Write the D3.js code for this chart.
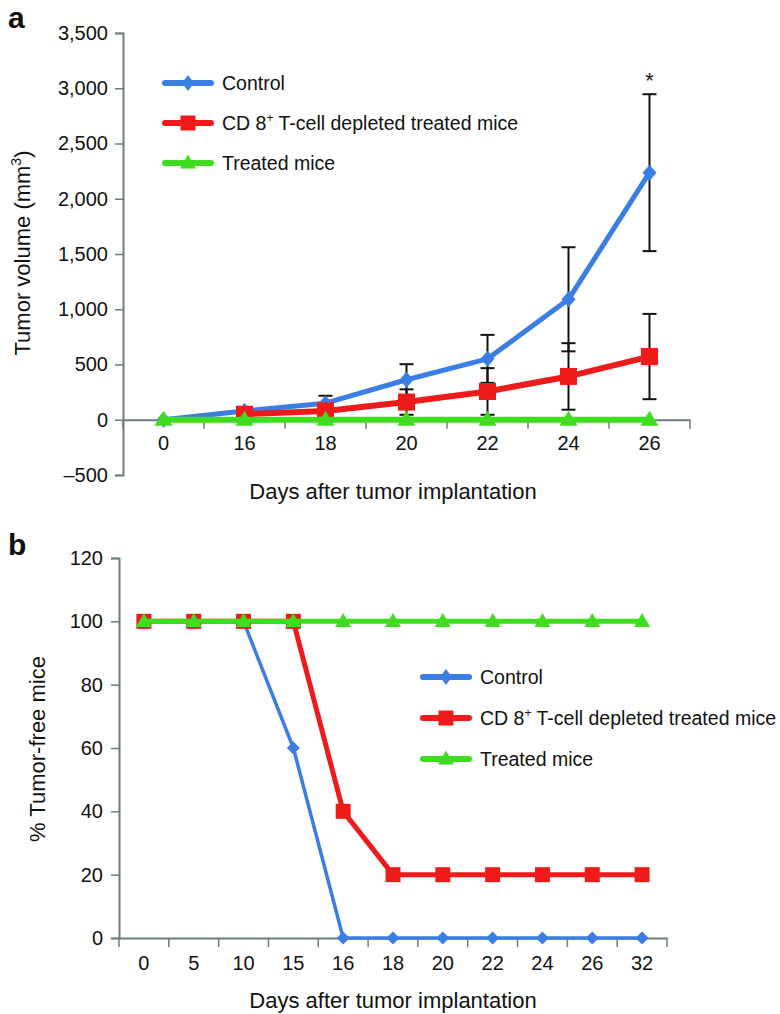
<!DOCTYPE html>
<html><head><meta charset="utf-8">
<script src="https://cdn.jsdelivr.net/npm/d3@7"></script>
<style>
body{margin:0;background:#fff}
text{font-family:"Liberation Sans",Arial,Helvetica,sans-serif;fill:#111}
</style>
</head><body>
<svg id="c" width="780" height="1014"></svg>
<script>
// ---------- data: panel a ----------
const daysA = ["0","16","18","20","22","24","26"];
const controlA = [0, 80, 150, 362, 551, 1090, 2236];
const controlAErr = [0, 20, 67, 141, 217, 471, 710];
const cd8A = [null, 50, 80, 160, 256, 392, 572];
const cd8AErr = [0, 15, 30, 115, 211, 301, 386];
const treatedA = [0, 0, 0, 0, 0, 0, 0];
const yTicksA = [-500, 0, 500, 1000, 1500, 2000, 2500, 3000, 3500];
const yTickLabelsA = ["\u2013500","0","500","1,000","1,500","2,000","2,500","3,000","3,500"];

// ---------- data: panel b ----------
const daysB = ["0","5","10","15","16","18","20","22","24","26","32"];
const controlB = [100, 100, 100, 60, 0, 0, 0, 0, 0, 0, 0];
const cd8B = [100, 100, 100, 100, 40, 20, 20, 20, 20, 20, 20];
const treatedB = [100, 100, 100, 100, 100, 100, 100, 100, 100, 100, 100];
const yTicksB = [0, 20, 40, 60, 80, 100, 120];

const seriesNames = ["Control", "CD 8+ T-cell depleted treated mice", "Treated mice"];
const colors = ["#3a7ee4", "#ef1b1b", "#3fdc20"];
const axisColor = "#6f7d7d";

const svg = d3.select("#c");

// marker path builders
function diamond(w, h){ return `M0,${-h/2}L${w/2},0L0,${h/2}L${-w/2},0Z`; }
function square(s){ return `M${-s/2},${-s/2}h${s}v${s}h${-s}Z`; }
function triangle(w, h){ return `M0,${-h*0.6}L${w/2},${h*0.4}L${-w/2},${h*0.4}Z`; }

function legendLabel(sel, name){
  const parts = name.split("+");
  if (parts.length === 1){ sel.text(name); return; }
  sel.append("tspan").text(parts[0]);
  sel.append("tspan").attr("font-size","12px").attr("dy","-8").text("+");
  sel.append("tspan").attr("dy","8").text(parts[1]);
}

function drawPanel(cfg){
  const g = svg.append("g");
  const x = d3.scaleBand().domain(cfg.days).range([cfg.x0, cfg.x1]).paddingInner(0).paddingOuter(0);
  const y = d3.scaleLinear().domain(cfg.yDomain).range([cfg.yBottom, cfg.yTop]);
  const cx = d => x(d) + x.bandwidth()/2;
  const y0 = y(0);

  // y axis
  const yAxis = d3.axisLeft(y).tickValues(cfg.yTicks).tickSize(8).tickPadding(cfg.yPad)
    .tickFormat((d,i) => cfg.yLabels ? cfg.yLabels[i] : d);
  const ya = g.append("g").attr("transform", `translate(${cfg.x0},0)`).call(yAxis);
  ya.select(".domain").attr("stroke", axisColor).attr("stroke-width", 2);
  ya.selectAll(".tick line").attr("stroke", axisColor).attr("stroke-width", 1.5);
  ya.selectAll(".tick text").attr("font-size", "20px").attr("fill", "#111")
    .style("font-family", '"Liberation Sans",Arial,sans-serif');

  // x axis (line at value 0, labels centered in bands, ticks at band boundaries)
  const xAxis = d3.axisBottom(x).tickSize(0).tickPadding(cfg.xPad);
  const xa = g.append("g").attr("transform", `translate(0,${y0})`).call(xAxis);
  xa.select(".domain").attr("stroke", axisColor).attr("stroke-width", 2);
  xa.selectAll(".tick text").attr("font-size", "20px").attr("fill", "#111").attr("dy", "0.71em")
    .style("font-family", '"Liberation Sans",Arial,sans-serif');
  const bounds = cfg.days.map(d => x(d)).concat([cfg.x1]);
  g.append("g").selectAll("line").data(bounds).join("line")
    .attr("x1", d => d).attr("x2", d => d).attr("y1", y0).attr("y2", y0 + 9)
    .attr("stroke", axisColor).attr("stroke-width", 1.5);

  // axis titles
  g.append("text").attr("x", cfg.xTitleX).attr("y", cfg.xTitleY).attr("text-anchor", "middle")
    .attr("font-size", "22px").text("Days after tumor implantation");
  const yt = g.append("text").attr("transform", `translate(${cfg.yTitleX},${cfg.yTitleY}) rotate(-90)`)
    .attr("text-anchor", "middle").attr("font-size", "22px");
  if (cfg.yTitleSup){
    yt.append("tspan").text(cfg.yTitle);
    yt.append("tspan").attr("font-size","14px").attr("dy","-9").text(cfg.yTitleSup);
    yt.append("tspan").attr("dy","9").text(")");
  } else yt.text(cfg.yTitle);

  // panel letter
  g.append("text").attr("x", 8).attr("y", cfg.letterY).attr("font-size", "30px")
    .attr("font-weight", "bold").text(cfg.letter);

  // error bars (under lines)
  if (cfg.errors){
    cfg.errors.forEach(([vals, errs]) => {
      const data = cfg.days.map((d,i) => ({d, v: vals[i], e: errs[i]})).filter(p => p.v !== null && p.e > 0);
      const eg = g.append("g").attr("stroke", "#111").attr("stroke-width", 2);
      eg.selectAll("line.v").data(data).join("line").attr("class","v")
        .attr("x1", p => cx(p.d)).attr("x2", p => cx(p.d))
        .attr("y1", p => y(p.v - p.e)).attr("y2", p => y(p.v + p.e));
      eg.selectAll("line.t").data(data).join("line").attr("class","t")
        .attr("x1", p => cx(p.d) - 7).attr("x2", p => cx(p.d) + 7)
        .attr("y1", p => y(p.v + p.e)).attr("y2", p => y(p.v + p.e));
      eg.selectAll("line.b").data(data).join("line").attr("class","b")
        .attr("x1", p => cx(p.d) - 7).attr("x2", p => cx(p.d) + 7)
        .attr("y1", p => y(p.v - p.e)).attr("y2", p => y(p.v - p.e));
    });
  }

  // series
  cfg.series.forEach((vals, si) => {
    const data = cfg.days.map((d,i) => ({d, v: vals[i]})).filter(p => p.v !== null);
    const line = d3.line().x(p => cx(p.d)).y(p => y(p.v));
    g.append("path").datum(data).attr("d", line).attr("fill", "none")
      .attr("stroke", colors[si]).attr("stroke-width", cfg.lineW[si])
      .attr("stroke-linejoin", "round").attr("stroke-linecap", "round");
    g.append("g").selectAll("path").data(data).join("path")
      .attr("transform", p => `translate(${cx(p.d)},${y(p.v)})`)
      .attr("d", cfg.markers[si]).attr("fill", colors[si]);
  });

  // legend
  const lg = g.append("g");
  seriesNames.forEach((name, i) => {
    const ly = cfg.legY[i];
    lg.append("line").attr("x1", cfg.legX).attr("x2", cfg.legX + 46).attr("y1", ly).attr("y2", ly)
      .attr("stroke", colors[i]).attr("stroke-width", 6).attr("stroke-linecap", "round");
    lg.append("path").attr("transform", `translate(${cfg.legX + 23},${ly})`)
      .attr("d", cfg.legMarkers[i]).attr("fill", colors[i]);
    const t = lg.append("text").attr("x", cfg.legX + 57).attr("y", ly + 7).attr("font-size", "19.5px");
    legendLabel(t, name);
  });

  return {x, y, cx, g};
}

// ---------- panel a ----------
const pa = drawPanel({
  days: daysA, x0: 123, x1: 690, yDomain: [-500, 3500], yBottom: 475, yTop: 33,
  yTicks: yTicksA, yLabels: yTickLabelsA, yPad: 7, xPad: 16,
  xTitleX: 393, xTitleY: 499,
  yTitle: "Tumor volume (mm", yTitleSup: "3", yTitleX: 30, yTitleY: 253,
  letter: "a", letterY: 28,
  errors: [[controlA, controlAErr], [cd8A, cd8AErr]],
  series: [controlA, cd8A, treatedA],
  lineW: [5, 6, 6],
  markers: [diamond(14, 16), square(17), triangle(18, 15)],
  legX: 165, legY: [83, 123, 163],
  legMarkers: [diamond(12, 16), square(15), triangle(16, 14)]
});
// significance asterisk above the last control error bar
pa.g.append("text").attr("x", pa.cx(daysA[6])).attr("y", pa.y(controlA[6] + controlAErr[6]) - 6)
  .attr("text-anchor", "middle").attr("font-size", "22px").text("*");

// ---------- panel b ----------
drawPanel({
  days: daysB, x0: 119, x1: 667, yDomain: [0, 120], yBottom: 938, yTop: 558,
  yTicks: yTicksB, yPad: 8, xPad: 18,
  xTitleX: 393, xTitleY: 1008,
  yTitle: "% Tumor-free mice", yTitleX: 45, yTitleY: 749,
  letter: "b", letterY: 555,
  series: [controlB, cd8B, treatedB],
  lineW: [3.5, 5, 5],
  markers: [diamond(13, 13), square(15), triangle(16, 14)],
  legX: 423, legY: [677, 718, 759],
  legMarkers: [diamond(12, 16), square(15), triangle(16, 14)]
});
</script>
</body></html>
